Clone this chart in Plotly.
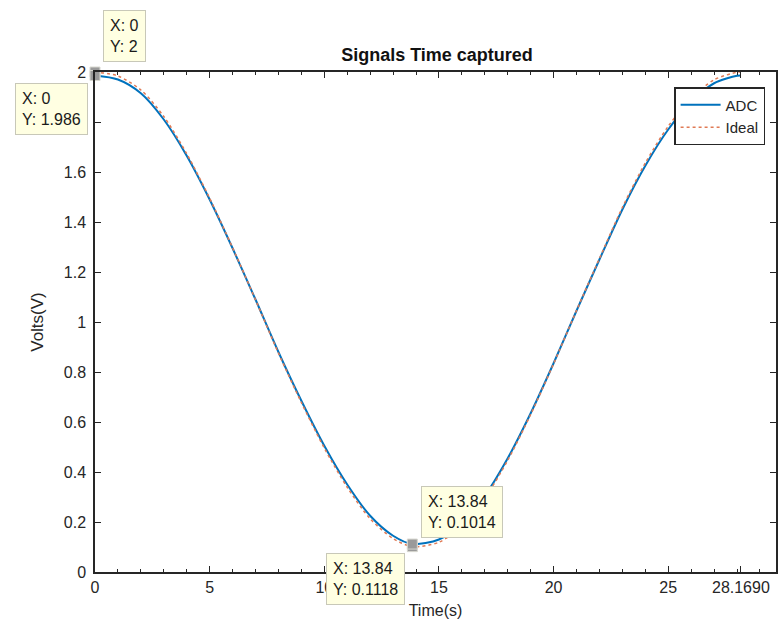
import plotly.graph_objects as go

# Sample times (s) and captured / reference voltages (V)
time_s = [0, 1, 2, 3, 4, 5, 6, 7, 8, 9, 10, 11, 12, 13, 13.84,
          15, 16, 17, 18, 19, 20, 21, 22, 23, 24, 25, 26, 27, 28, 28.169]
adc_v = [1.986, 1.97, 1.915, 1.81, 1.665, 1.49, 1.295, 1.09, 0.88, 0.685,
         0.505, 0.35, 0.225, 0.145, 0.1118, 0.13, 0.195, 0.305, 0.455, 0.635,
         0.835, 1.045, 1.25, 1.45, 1.625, 1.77, 1.88, 1.955, 1.985, 1.986]
ideal_v = [2.0, 1.984, 1.928, 1.822, 1.673, 1.495, 1.297, 1.089, 0.876, 0.678,
           0.496, 0.339, 0.213, 0.134, 0.1014, 0.119, 0.184, 0.295, 0.447, 0.630,
           0.833, 1.046, 1.254, 1.458, 1.636, 1.783, 1.894, 1.969, 1.999, 2.0]

# Data cursors
tips_x = [0, 0, 13.84, 13.84]
tips_y = [2, 1.986, 0.1014, 0.1118]

x_tickvals = [0, 5, 10, 15, 20, 25, 28.169]
x_ticktext = ["0", "5", "10", "15", "20", "25", "28.1690"]
y_tickvals = [0, 0.2, 0.4, 0.6, 0.8, 1.0, 1.2, 1.4, 1.6, 1.8, 2.0]
y_ticktext = ["0", "0.2", "0.4", "0.6", "0.8", "1", "1.2", "1.4", "1.6", "1.8", "2"]

AX = "#262626"
FONT = "Liberation Sans, Arial, sans-serif"

fig = go.Figure()
fig.add_trace(go.Scatter(
    x=time_s, y=adc_v, name="ADC", mode="lines",
    line=dict(color="#0072BD", width=2, shape="spline", smoothing=0.8)))
fig.add_trace(go.Scatter(
    x=time_s, y=ideal_v, name="Ideal", mode="lines",
    line=dict(color="#E07A55", width=1.5, dash="dot", shape="spline", smoothing=0.8)))

# cursor markers
fig.add_trace(go.Scatter(
    x=tips_x, y=tips_y, mode="markers", showlegend=False, cliponaxis=False,
    marker=dict(symbol="square", size=10, color="#9a9a9a",
                line=dict(color="#d8d8d0", width=1))))

# cursor text boxes
tip_layout = [
    dict(xanchor="left", yanchor="bottom", xshift=8, yshift=10),
    dict(xanchor="right", yanchor="top", xshift=-7, yshift=-7),
    dict(xanchor="left", yanchor="bottom", xshift=9, yshift=9),
    dict(xanchor="right", yanchor="top", xshift=-7, yshift=-9),
]
for tx, ty, pos in zip(tips_x, tips_y, tip_layout):
    fig.add_annotation(
        x=tx, y=ty, xref="x", yref="y", showarrow=False,
        text=f"X: {tx:g}<br>Y: {ty:g}", align="left",
        font=dict(family=FONT, size=16, color="#1a1a1a"),
        bgcolor="rgb(255,255,226)", bordercolor="#c8c8b8", borderwidth=1,
        borderpad=6, **pos)

fig.update_layout(
    width=779, height=626,
    margin=dict(l=95, r=1, t=72, b=54),
    paper_bgcolor="white", plot_bgcolor="white",
    font=dict(family=FONT, size=16, color=AX),
    title=dict(text="<b>Signals Time captured</b>", x=0.561, xanchor="center",
               y=1 - 55 / 626, yanchor="middle",
               font=dict(family=FONT, size=18, color="#111111")),
    legend=dict(x=0.984, y=0.97, xanchor="right", yanchor="top",
                bgcolor="white", bordercolor=AX, borderwidth=1.5,
                font=dict(family=FONT, size=15, color=AX),
                tracegroupgap=0, itemwidth=40),
    showlegend=True,
)

fig.update_xaxes(
    range=[0, 29.7], tickmode="array", tickvals=x_tickvals, ticktext=x_ticktext,
    showline=True, linecolor=AX, linewidth=1.5, mirror="ticks",
    ticks="inside", ticklen=6, tickcolor=AX, tickwidth=1,
    showgrid=False, zeroline=False,
    minor=dict(ticks="inside", ticklen=3, tickcolor=AX, dtick=1, tick0=0, showgrid=False),
    title=dict(text="Time(s)", standoff=10, font=dict(size=16)),
)
fig.update_yaxes(
    range=[0, 2], tickmode="array", tickvals=y_tickvals, ticktext=y_ticktext,
    showline=True, linecolor=AX, linewidth=1.5, mirror="ticks",
    ticks="inside", ticklen=6, tickcolor=AX, tickwidth=1, ticklabelstandoff=4,
    showgrid=False, zeroline=False,
    title=dict(text="Volts(V)", standoff=16, font=dict(size=17)),
)

fig.write_html("out.html")
